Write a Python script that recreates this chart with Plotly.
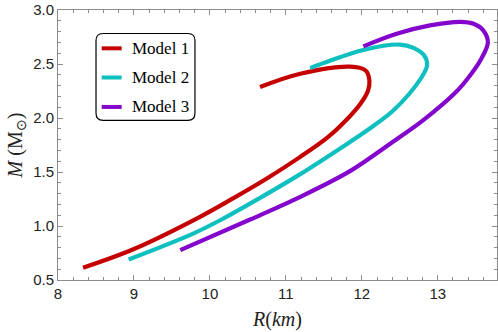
import plotly.graph_objects as go

# Model 1 (red)
R1 = [8.33, 9.00, 9.87, 10.31, 10.75, 11.19, 11.55, 11.78, 11.98, 12.08, 12.10, 12.05, 11.85, 11.19, 10.66]
M1 = [0.614, 0.787, 1.085, 1.258, 1.44, 1.64, 1.82, 1.97, 2.13, 2.25, 2.35, 2.44, 2.475, 2.41, 2.287]
# Model 2 (cyan)
R2 = [8.93, 9.78, 10.18, 10.66, 11.19, 11.72, 12.10, 12.40, 12.62, 12.78, 12.86, 12.82, 12.68, 12.50, 12.02, 11.58, 11.32]
M2 = [0.69, 0.93, 1.07, 1.26, 1.48, 1.72, 1.90, 2.06, 2.22, 2.37, 2.49, 2.58, 2.65, 2.68, 2.63, 2.53, 2.462]
# Model 3 (purple)
R3 = [9.61, 10.53, 11.19, 11.85, 12.37, 12.81, 13.24, 13.41, 13.56, 13.66, 13.60, 13.48, 13.30, 12.90, 12.46, 12.02]
M3 = [0.777, 1.06, 1.27, 1.51, 1.76, 1.98, 2.24, 2.38, 2.533, 2.70, 2.81, 2.87, 2.89, 2.857, 2.78, 2.663]

names = ["Model 1", "Model 2", "Model 3"]
colors = ["#C40000", "#10BFBF", "#8405CC"]

x_ticks = [8, 9, 10, 11, 12, 13]
y_ticks = [0.5, 1.0, 1.5, 2.0, 2.5, 3.0]
y_labels = ["0.5", "1.0", "1.5", "2.0", "2.5", "3.0"]

fig = go.Figure()
for R, M, n, c in zip([R1, R2, R3], [M1, M2, M3], names, colors):
    fig.add_trace(go.Scatter(x=R, y=M, mode="lines", name=n,
                             line=dict(color=c, width=4.2, shape="spline", smoothing=1.0),
                             showlegend=False, hoverinfo="skip"))

axis_common = dict(
    showline=True, linecolor="#8c8c8c", linewidth=1, mirror="ticks",
    ticks="inside", ticklen=5, tickcolor="#8c8c8c", tickwidth=1,
    showgrid=False, zeroline=False, ticklabeloverflow="allow",
    tickfont=dict(family="Liberation Sans", size=15, color="#222"),
)

fig.update_xaxes(range=[8, 13.78], tickvals=x_ticks, ticktext=[str(v) for v in x_ticks],
                 minor=dict(dtick=0.2, ticks="inside", ticklen=3, tickcolor="#8c8c8c", showgrid=False),
                 title=dict(text="<i>R</i>(<i>km</i>)", font=dict(family="Liberation Serif", size=20, color="#222"),
                            standoff=10),
                 **axis_common)
fig.update_yaxes(range=[0.5, 3.0], tickvals=y_ticks, ticktext=y_labels,
                 minor=dict(dtick=0.1, ticks="inside", ticklen=3, tickcolor="#8c8c8c", showgrid=False),
                 title=dict(text="<i>M</i> (M<sub>⊙</sub>)", font=dict(family="Liberation Serif", size=20, color="#222"),
                            standoff=5),
                 **axis_common)

# legend box (rounded), drawn in paper coords
x0, x1, y0, y1 = 0.0866, 0.312, 0.5915, 0.913
rx, ry = 0.016, 0.026
path = (f"M {x0+rx},{y1} L {x1-rx},{y1} Q {x1},{y1} {x1},{y1-ry} "
        f"L {x1},{y0+ry} Q {x1},{y0} {x1-rx},{y0} L {x0+rx},{y0} Q {x0},{y0} {x0},{y0+ry} "
        f"L {x0},{y1-ry} Q {x0},{y1} {x0+rx},{y1} Z")
fig.add_shape(type="path", path=path, xref="paper", yref="paper",
              line=dict(color="black", width=1.2), fillcolor="white", layer="above")
leg_y = [0.858, 0.750, 0.641]
for n, c, ly in zip(names, colors, leg_y):
    fig.add_shape(type="line", xref="paper", yref="paper", x0=0.0995, x1=0.145, y0=ly, y1=ly,
                  line=dict(color=c, width=4), layer="above")
    fig.add_annotation(x=0.1656, y=ly, xref="paper", yref="paper", text=n, showarrow=False,
                       xanchor="left", yanchor="middle", borderpad=0,
                       font=dict(family="Liberation Serif", size=17, color="black"))

fig.update_layout(width=498, height=332, margin=dict(l=58, r=1, t=10, b=52),
                  plot_bgcolor="white", paper_bgcolor="white", hovermode=False)
# remove the browser's default 8px body margin so the figure fills the window exactly
fig.write_html("out.html", config={"displayModeBar": False},
               post_script="document.body.style.margin='0px';")
